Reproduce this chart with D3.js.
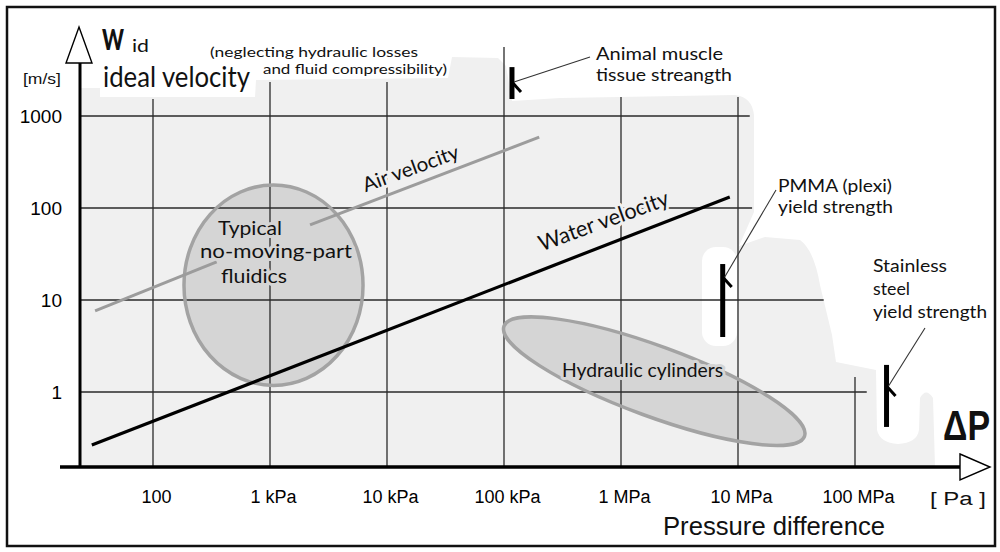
<!DOCTYPE html>
<html><head><meta charset="utf-8">
<script src="https://cdn.jsdelivr.net/npm/d3@7"></script>
<style>body{margin:0;background:#fff}svg{display:block}</style>
</head><body>
<svg id="chart" width="1000" height="552"></svg>
<script>
// ---------------- DATA ----------------
const pressureTicks = [1e2, 1e3, 1e4, 1e5, 1e6, 1e7, 1e8];
const pressureTickLabels = ["100", "1 kPa", "10 kPa", "100 kPa", "1 MPa", "10 MPa", "100 MPa"];
const velocityTicks = [1, 10, 100, 1000];
const velocityTickLabels = ["1", "10", "100", "1000"];

// Air velocity line (two pieces, interrupted by the fluidics label)  [Pa, m/s]
const airPressure = [32, 350];
const airVelocity = [7.6, 25.9];
const airPressure2 = [2200, 200000];
const airVelocity2 = [65.4, 590];
// Water velocity line
const waterPressure = [30, 8.5e6];
const waterVelocity = [0.265, 132];

// Typical no-moving-part fluidics region (bounding box in data units)
const fluidicsPressure = [184, 6240];
const fluidicsVelocity = [1.18, 178];
// Hydraulic cylinders region: major-axis end points, minor/major ratio
const hydraulicPressure = [1e5, 3.7e7];
const hydraulicVelocity = [5.2, 0.33];
const hydraulicRatio = 0.22;

// Strength markers
const markerNames = ["Animal muscle", "PMMA", "Stainless steel"];
const markerPressure = [1.17e5, 7.4e6, 1.86e8];
const markerVelTop = [3400, 24.6, 1.97];
const markerVelBottom = [1530, 3.96, 0.417];
const markerVelTick = [2340, 17.8, 1.16];

// Grid extents (vertical line tops in m/s, horizontal line ends in Pa)
const gridTopVelocity = [1530, 2340, 2340, 5630, 1610, 1610, 1.46];
const gridEndPressure = [1.26e8, 5.4e7, 1.32e7, 1.26e7];

// ---------------- LAYOUT ----------------
const svg = d3.select("#chart");
const axisX = 80, axisY = 467;
const x = d3.scaleLog().domain([1e2, 1e8]).range([153, 855]);
const y = d3.scaleLog().domain([1, 1000]).range([392, 116]);

const BG = "#f0f0f0", ELL_FILL = "#d5d5d5", ELL_STROKE = "#a3a3a3";
const TXT = "Lato, 'Noto Sans', sans-serif";
const ARIAL = "'Liberation Sans', Arial, sans-serif";

// frame
svg.append("rect").attr("x", 7).attr("y", 7).attr("width", 988).attr("height", 539)
  .attr("fill", "#fff").attr("stroke", "#111").attr("stroke-width", 2.5);

// light grey backdrop (decorative)
svg.append("path").attr("fill", BG).attr("d",
  "M80,88 L100,88 L100,97 L255,97 L256,80 L448,78 L452,57 L498,58 L506,66 L512,101 L560,98 L735,95 " +
  "Q752,97 754,115 L754,212 L747,228 L739,246 L765,237 L800,240 Q814,250 820,285 L832,335 L836,362 " +
  "L876,370 L877,430 Q880,443 898,444 Q917,443 919,430 L920,398 Q926,387 933,398 L935,467 L80,467 Z");
// white clearing around the PMMA marker
svg.append("rect").attr("x", 702).attr("y", 247).attr("width", 35).attr("height", 99)
  .attr("rx", 14).attr("fill", "#fff");

// ellipse regions (fills)
const fcx = (x(fluidicsPressure[0]) + x(fluidicsPressure[1])) / 2;
const fcy = (y(fluidicsVelocity[0]) + y(fluidicsVelocity[1])) / 2;
const frx = (x(fluidicsPressure[1]) - x(fluidicsPressure[0])) / 2;
const fry = (y(fluidicsVelocity[0]) - y(fluidicsVelocity[1])) / 2;

const hx1 = x(hydraulicPressure[0]), hy1 = y(hydraulicVelocity[0]);
const hx2 = x(hydraulicPressure[1]), hy2 = y(hydraulicVelocity[1]);
const hcx = (hx1 + hx2) / 2, hcy = (hy1 + hy2) / 2;
const hrx = Math.hypot(hx2 - hx1, hy2 - hy1) / 2;
const hry = hrx * hydraulicRatio;
const hang = Math.atan2(hy2 - hy1, hx2 - hx1) * 180 / Math.PI;

const ellG = svg.append("g");
ellG.append("ellipse").attr("cx", fcx).attr("cy", fcy).attr("rx", frx).attr("ry", fry)
  .attr("fill", ELL_FILL);
ellG.append("ellipse").attr("cx", 0).attr("cy", 0).attr("rx", hrx).attr("ry", hry)
  .attr("transform", `translate(${hcx},${hcy}) rotate(${hang})`).attr("fill", ELL_FILL);

// grid lines
const grid = svg.append("g").attr("stroke", "#2a2a2a").attr("stroke-width", 1.3);
grid.selectAll("line.v").data(pressureTicks).join("line").attr("class", "v")
  .attr("x1", d => x(d)).attr("x2", d => x(d))
  .attr("y1", (d, i) => y(gridTopVelocity[i])).attr("y2", axisY);
grid.selectAll("line.h").data(velocityTicks).join("line").attr("class", "h")
  .attr("x1", axisX).attr("x2", (d, i) => x(gridEndPressure[i]))
  .attr("y1", d => y(d)).attr("y2", d => y(d));

// ellipse outlines
ellG.clone(true).raise().selectAll("ellipse").attr("fill", "none")
  .attr("stroke", ELL_STROKE).attr("stroke-width", 3.5);

// velocity lines
const line = d3.line().x(d => x(d[0])).y(d => y(d[1]));
svg.append("path").datum(d3.zip(airPressure, airVelocity)).attr("d", line)
  .attr("fill", "none").attr("stroke", "#9c9c9c").attr("stroke-width", 3);
svg.append("path").datum(d3.zip(airPressure2, airVelocity2)).attr("d", line)
  .attr("fill", "none").attr("stroke", "#9c9c9c").attr("stroke-width", 3);
svg.append("path").datum(d3.zip(waterPressure, waterVelocity)).attr("d", line)
  .attr("fill", "none").attr("stroke", "#000").attr("stroke-width", 3.2);

// strength markers
const labelAnchors = [[590, 57], [776, 190], [925, 328]];
markerNames.forEach((n, i) => {
  const mx = x(markerPressure[i]);
  svg.append("line").attr("x1", mx).attr("x2", mx)
    .attr("y1", y(markerVelTop[i])).attr("y2", y(markerVelBottom[i]))
    .attr("stroke", "#000").attr("stroke-width", 5);
  const ty = y(markerVelTick[i]);
  svg.append("line").attr("x1", mx).attr("y1", ty).attr("x2", mx + 9).attr("y2", ty + 10)
    .attr("stroke", "#000").attr("stroke-width", 3);
  svg.append("line").attr("x1", mx + 2).attr("y1", ty).attr("x2", labelAnchors[i][0]).attr("y2", labelAnchors[i][1])
    .attr("stroke", "#333").attr("stroke-width", 1.1);
});

// axes lines + arrows
svg.append("line").attr("x1", axisX).attr("x2", axisX).attr("y1", 62).attr("y2", axisY + 1)
  .attr("stroke", "#000").attr("stroke-width", 3);
svg.append("path").attr("d", "M79,27 L92,63 L66,63 Z").attr("fill", "#fff")
  .attr("stroke", "#000").attr("stroke-width", 1.4);
svg.append("line").attr("x1", 60).attr("x2", 960).attr("y1", axisY).attr("y2", axisY)
  .attr("stroke", "#000").attr("stroke-width", 3.5);
svg.append("path").attr("d", "M960,454 L990,467 L960,480 Z").attr("fill", "#fff")
  .attr("stroke", "#000").attr("stroke-width", 1.4);

// tick labels via d3 axes
const xAxis = d3.axisBottom(x).tickValues(pressureTicks)
  .tickFormat((d, i) => pressureTickLabels[i]).tickSize(0).tickPadding(23);
const gx = svg.append("g").attr("transform", `translate(3,${axisY})`).call(xAxis);
gx.select(".domain").remove();
gx.selectAll("text").attr("font-family", ARIAL).attr("font-size", 18).attr("fill", "#000");

const yAxis = d3.axisLeft(y).tickValues(velocityTicks)
  .tickFormat((d, i) => velocityTickLabels[i]).tickSize(0).tickPadding(18);
const gy = svg.append("g").attr("transform", `translate(${axisX},0)`).call(yAxis);
gy.select(".domain").remove();
gy.selectAll("text").attr("font-family", ARIAL).attr("font-size", 19).attr("fill", "#000");

// ---------------- TEXT ----------------
function txt(s, px, py, size, opts = {}) {
  const t = svg.append("text").attr("x", px).attr("y", py).text(s)
    .attr("font-family", opts.family || TXT).attr("font-size", size)
    .attr("fill", "#111");
  if (opts.weight) t.attr("font-weight", opts.weight);
  if (opts.len) t.attr("textLength", opts.len).attr("lengthAdjust", "spacingAndGlyphs");
  if (opts.anchor) t.attr("text-anchor", opts.anchor);
  if (opts.rotate !== undefined) t.attr("transform", `rotate(${opts.rotate},${px},${py})`);
  if (opts.halo) t.attr("stroke", opts.halo).attr("stroke-width", 6)
    .attr("paint-order", "stroke").attr("stroke-linejoin", "round");
  return t;
}

txt("[m/s]", 23, 84, 15, {family: ARIAL, len: 38});
txt("W", 102, 50, 29, {weight: 900, len: 22});
txt("id", 132, 52, 18, {len: 17});
txt("ideal velocity", 103, 87, 28, {len: 147});
txt("(neglecting hydraulic losses", 210, 57, 14, {len: 208});
txt("and fluid compressibility)", 263, 74, 14, {len: 184});
txt("Animal muscle", 596, 60, 18, {len: 127});
txt("tissue streangth", 596, 81, 18, {len: 136});
txt("PMMA (plexi)", 778, 192, 18, {len: 114});
txt("yield strength", 778, 213, 18, {len: 115});
txt("Stainless", 873, 272, 18, {len: 74});
txt("steel", 873, 295, 18, {len: 37});
txt("yield strength", 873, 318, 18, {len: 114});
txt("Typical", 218, 235, 20, {len: 64, halo: ELL_FILL});
txt("no-moving-part", 200, 258, 20, {len: 152, halo: ELL_FILL});
txt("fluidics", 221, 283, 20, {len: 66, halo: ELL_FILL});
txt("Hydraulic cylinders", 562, 377, 19, {len: 161, halo: ELL_FILL});
txt("Air velocity", 413, 175, 20, {anchor: "middle", rotate: -20, len: 101, halo: BG});
txt("Water velocity", 606, 228, 22, {anchor: "middle", rotate: -20, len: 137, halo: BG});
txt("ΔP", 943, 440, 42, {family: ARIAL, weight: 700, len: 47});
txt("[ Pa ]", 958, 505, 18, {family: ARIAL, anchor: "middle", len: 56});
txt("Pressure difference", 663, 535, 25, {family: ARIAL, len: 222});
</script>
</body></html>
